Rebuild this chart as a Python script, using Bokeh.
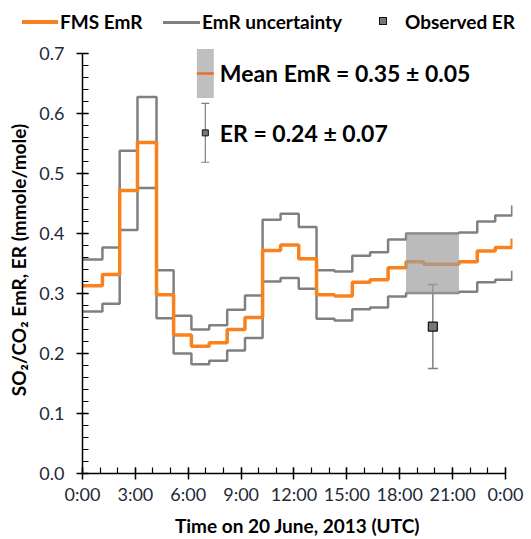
from bokeh.plotting import figure
from bokeh.layouts import column
from bokeh.models import (Range1d, SingleIntervalTicker, NumeralTickFormatter, Div,
                          Whisker, TeeHead, ColumnDataSource)
from bokeh.core.properties import value
from bokeh.embed import file_html
from bokeh.resources import INLINE

# ---- data (hours since 0:00 UTC on 20 June 2013) ----
step_edges = [0, 1.13, 2.11, 3.12, 4.2, 5.17, 6.18, 7.19, 8.21, 9.22, 10.22, 11.24, 12.27,
              13.28, 14.3, 15.31, 16.32, 17.34, 18.36, 19.36, 20.36, 21.36, 22.4, 23.42, 24.38]
fms_emr = [0.313, 0.332, 0.472, 0.552, 0.298, 0.231, 0.212, 0.218, 0.24, 0.26, 0.372, 0.381, 0.358,
           0.298, 0.296, 0.319, 0.323, 0.343, 0.353, 0.349, 0.349, 0.353, 0.371, 0.377, 0.392]
emr_upper = [0.357, 0.377, 0.538, 0.628, 0.339, 0.263, 0.24, 0.247, 0.273, 0.297, 0.423, 0.433, 0.411,
             0.339, 0.337, 0.363, 0.369, 0.39, 0.4, 0.4, 0.4, 0.402, 0.42, 0.43, 0.447]
emr_lower = [0.27, 0.283, 0.406, 0.476, 0.259, 0.2, 0.182, 0.188, 0.205, 0.226, 0.32, 0.326, 0.308,
             0.258, 0.255, 0.274, 0.277, 0.295, 0.301, 0.301, 0.301, 0.303, 0.319, 0.323, 0.338]

mean_emr = 0.35
mean_emr_unc = 0.05
mean_start = 18.36
mean_end = 21.36

er_time = [19.88]
er_value = [0.245]
er_unc = [0.07]

x_ticks = [0, 3, 6, 9, 12, 15, 18, 21, 24]
x_labels = ["0:00", "3:00", "6:00", "9:00", "12:00", "15:00", "18:00", "21:00", "0:00"]

legend_labels = ["FMS EmR", "EmR uncertainty", "Observed ER"]
mean_text = "Mean EmR = 0.35 ± 0.05"
er_text = "ER = 0.24 ± 0.07"

ORANGE = "#F7821E"
GRAY = "#808080"
FONT = "Lato"
TICK_COLOR = "#1E2A3A"
MARKER_FILL = "#777777"

# ---------------- main chart ----------------
p = figure(width=531, height=499, output_backend="svg", toolbar_location=None,
           x_range=Range1d(0, 24.40), y_range=Range1d(0, 0.712),
           min_border_left=82, min_border_right=19, min_border_top=6, min_border_bottom=66)
p.outline_line_color = None
p.xgrid.grid_line_color = None
p.ygrid.grid_line_color = None

p.step(step_edges, emr_upper, mode="after", line_color=GRAY, line_width=2.5)
p.step(step_edges, emr_lower, mode="after", line_color=GRAY, line_width=2.5)
p.step(step_edges, fms_emr, mode="after", line_color=ORANGE, line_width=3.5)

# mean EmR box
p.quad(left=[mean_start], right=[mean_end], bottom=[mean_emr - mean_emr_unc], top=[mean_emr + mean_emr_unc],
       fill_color="#9E9E9E", fill_alpha=0.7, line_color=None)

# observed ER
src = ColumnDataSource(dict(x=er_time, y=er_value,
                            lo=[v - u for v, u in zip(er_value, er_unc)],
                            hi=[v + u for v, u in zip(er_value, er_unc)]))
p.add_layout(Whisker(source=src, base="x", upper="hi", lower="lo", dimension="height",
                     line_color=GRAY, line_width=1.5,
                     upper_head=TeeHead(size=10, line_color=GRAY, line_width=1.5),
                     lower_head=TeeHead(size=10, line_color=GRAY, line_width=1.5)))
p.scatter("x", "y", source=src, marker="square", size=9, fill_color=MARKER_FILL,
          line_color="#111111", line_width=1.2)

# in-plot key for mean EmR and ER
kx0, kx1 = 6.49, 7.45
kxc = (kx0 + kx1) / 2
ky_mean = 0.667
ky_er = 0.568
ktext_x = 7.79
p.quad(left=[kx0], right=[kx1], bottom=[ky_mean - 0.041], top=[ky_mean + 0.041],
       fill_color="#BFBFBF", line_color=None)
p.segment(x0=[kx0], x1=[kx1], y0=[ky_mean], y1=[ky_mean], line_color="#E8702A", line_width=2.5)
ksrc = ColumnDataSource(dict(x=[kxc], y=[ky_er], lo=[ky_er - 0.049], hi=[ky_er + 0.049]))
p.add_layout(Whisker(source=ksrc, base="x", upper="hi", lower="lo", dimension="height",
                     line_color=GRAY, line_width=1.2,
                     upper_head=TeeHead(size=8, line_color=GRAY, line_width=1.2),
                     lower_head=TeeHead(size=8, line_color=GRAY, line_width=1.2)))
p.scatter([kxc], [ky_er], marker="square", size=6, fill_color=MARKER_FILL, line_color="#111111", line_width=1)
p.text(x=[ktext_x, ktext_x], y=[ky_mean, ky_er], text=[mean_text, er_text],
       text_font=value(FONT), text_font_style="bold", text_font_size="23px",
       text_baseline="middle", text_align="left", text_color="#000000")

# axes
xa = p.xaxis[0]
xa.ticker = SingleIntervalTicker(interval=3, num_minor_ticks=3)
xa.major_label_overrides = {t: l for t, l in zip(x_ticks, x_labels)}
xa.bounds = (0, 24)
ya = p.yaxis[0]
ya.ticker = SingleIntervalTicker(interval=0.1, num_minor_ticks=5)
ya.formatter = NumeralTickFormatter(format="0.0")
ya.bounds = (0, 0.7001)
for ax in (xa, ya):
    ax.axis_line_color = "#000000"
    ax.axis_line_width = 1.5
    ax.major_tick_line_color = "#000000"
    ax.major_tick_line_width = 1.5
    ax.minor_tick_line_color = "#000000"
    ax.minor_tick_line_width = 1.2
    ax.major_tick_in = 6
    ax.major_tick_out = 6
    ax.minor_tick_in = 6
    ax.minor_tick_out = 0
    ax.major_label_text_font = FONT
    ax.major_label_text_font_size = "18px"
    ax.major_label_text_color = TICK_COLOR
    ax.axis_label_text_font = FONT
    ax.axis_label_text_font_size = "19px"
    ax.axis_label_text_font_style = "bold"
    ax.axis_label_text_color = "#000000"
xa.axis_label = "Time on 20 June, 2013 (UTC)"
ya.axis_label = "SO₂/CO₂ EmR, ER (mmole/mole)"
xa.major_label_standoff = 3
xa.axis_label_standoff = 6
ya.major_label_standoff = 12
ya.axis_label_standoff = 6

# ---------------- legend strip on top (HTML) ----------------
txt = ("position:absolute;top:11px;line-height:22px;font-family:Lato,sans-serif;"
       "font-weight:bold;font-size:19px;color:#000;white-space:nowrap;")
legend_html = (
    '<div style="position:relative;width:531px;height:40px;">'
    f'<span style="position:absolute;left:22px;top:20px;width:36px;height:4px;background:{ORANGE};"></span>'
    f'<span style="{txt}left:60px;">{legend_labels[0]}</span>'
    f'<span style="position:absolute;left:163px;top:21px;width:37px;height:2.5px;background:{GRAY};"></span>'
    f'<span style="{txt}left:202px;">{legend_labels[1]}</span>'
    f'<span style="position:absolute;left:379px;top:17px;width:8px;height:8px;background:{MARKER_FILL};'
    'border:1.2px solid #111;"></span>'
    f'<span style="{txt}left:405px;">{legend_labels[2]}</span>'
    '</div>'
)
lg = Div(text=legend_html, width=531, height=40, margin=0)

layout = column(lg, p, spacing=0)
open("out.html", "w").write(file_html(layout, INLINE))
